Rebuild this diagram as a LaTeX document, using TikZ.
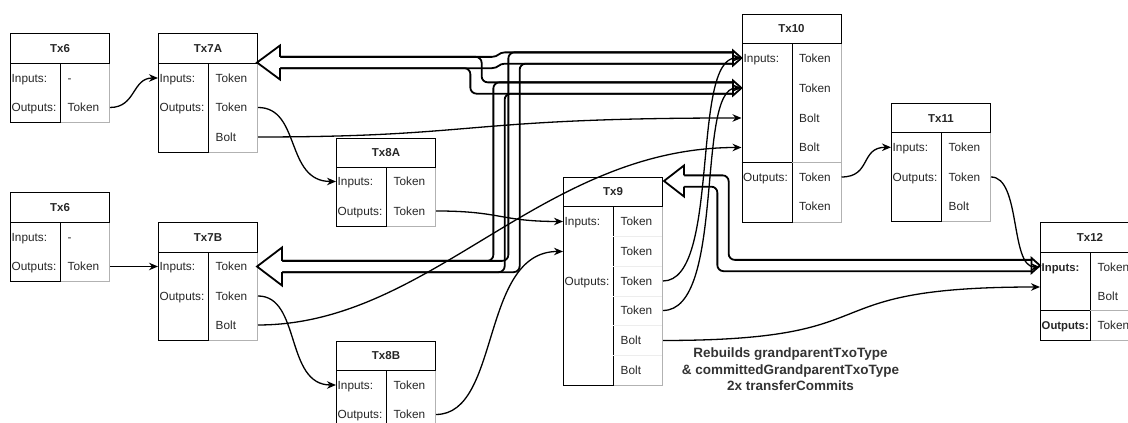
\documentclass[tikz,border=0pt]{standalone}
\usepackage{fontspec}
\setmainfont{Liberation Sans}
\usetikzlibrary{arrows.meta}
\newcommand\TxBox[6]{%
  \node[cellr, minimum height={#5-#4}] (#1r) at ({#2+50},#4) {};
  \node[celll, minimum height={#5-#4}] (#1l) at (#2,#4) {};
  \node[cellt, minimum height={#4-#3}] (#1t) at (#2,#3) {#6};}
\newcommand\Lab[4]{\node[lbl] (#1) at (#2,{#3+4.2}) {#4};}
\newcommand\BigHead[3]{%
  \fill[white] (#1) -- ++(#2,-#3) -- ++(0,2*#3) -- cycle;
  \draw[flexline] ([shift={(#2,-5.65)}]#1) -- ([shift={(#2,-#3)}]#1) -- (#1) -- ([shift={(#2,#3)}]#1) -- ([shift={(#2,5.65)}]#1);}
\newcommand\SmallHead[1]{%
  \draw[flexline, fill=white] ([shift={(-8.5,-7.5)}]#1) -- (#1) -- ([shift={(-8.5,7.5)}]#1) -- cycle;}
\begin{document}
\begin{tikzpicture}[x=1pt,y=-1pt,
  cellt/.style={draw=black, line width=1pt, anchor=north west, inner sep=0pt, minimum width=99pt, font=\bfseries\fontsize{11.5}{13}\selectfont, text=black!85},
  celll/.style={draw=black, line width=1pt, anchor=north west, inner sep=0pt, minimum width=50pt},
  cellr/.style={draw=black!30, line width=1pt, anchor=north west, inner sep=0pt, minimum width=49pt},
  lbl/.style={anchor=base west, inner sep=0pt, font=\fontsize{11.8}{13}\selectfont, text=black!85},
  blbl/.style={lbl, font=\bfseries\fontsize{11.3}{13}\selectfont},
  conn/.style={line width=1.3pt, -{Stealth[length=9pt,width=7.5pt]}},
  flexline/.style={line width=1.8pt, line join=miter},
  shaft/.style={flexline, rounded corners=6pt},
  caption/.style={align=center, font=\bfseries\fontsize{13.5}{16.5}\selectfont, text=black!80}]
\useasboundingbox (0,0) rectangle (1128,423);
\clip (0,0) rectangle (1128,423);

% ---------------- boxes ----------------
\TxBox{S6a}{10}{33}{62.5}{122}{Tx6}
\TxBox{S7A}{158}{33}{62.5}{152}{Tx7A}
\TxBox{S6b}{10}{192}{221.5}{281}{Tx6}
\TxBox{S7B}{158}{222}{251.5}{340}{Tx7B}
\TxBox{S8A}{336}{137.5}{166.5}{226}{Tx8A}
\TxBox{S8B}{336}{341}{370}{429}{Tx8B}
\TxBox{S9}{563}{177}{206}{384.5}{Tx9}
\TxBox{S10}{741.5}{13.5}{42.7}{221.7}{Tx10}
\TxBox{S11}{891}{103}{132.3}{221}{Tx11}
\TxBox{S12}{1040}{222}{252}{340}{Tx12}

% dividers
\draw[black, line width=1pt] (741.5,162.3) -- (791.5,162.3);
\draw[black!30, line width=1pt] (791.5,162.3) -- (840.5,162.3);
\draw[black, line width=1pt] (1040,310.7) -- (1090,310.7);
\draw[black!30, line width=1pt] (1090,310.7) -- (1139,310.7);
\foreach \yy in {236.5,266.5,296,325.5,355.5}
  \draw[black!7, line width=0.8pt] (613,\yy) -- (662,\yy);

% ---------------- labels ----------------
\Lab{S6a-in}{11.5}{78}{Inputs:}
\Lab{S6a-out}{11.5}{107.5}{Outputs:}
\Lab{S6a-1}{67.5}{78}{-}
\Lab{S6a-2}{67.5}{107.5}{Token}

\Lab{S7A-in}{159.5}{78}{Inputs:}
\Lab{S7A-out}{159.5}{107.5}{Outputs:}
\Lab{S7A-1}{215.5}{78}{Token}
\Lab{S7A-2}{215.5}{107.5}{Token}
\Lab{S7A-3}{215.5}{137}{Bolt}

\Lab{S6b-in}{11.5}{237}{Inputs:}
\Lab{S6b-out}{11.5}{266.5}{Outputs:}
\Lab{S6b-1}{67.5}{237}{-}
\Lab{S6b-2}{67.5}{266.5}{Token}

\Lab{S7B-in}{159.5}{266.5}{Inputs:}
\Lab{S7B-out}{159.5}{296}{Outputs:}
\Lab{S7B-1}{215.5}{266.5}{Token}
\Lab{S7B-2}{215.5}{296}{Token}
\Lab{S7B-3}{215.5}{325}{Bolt}

\Lab{S8A-in}{337.5}{181.5}{Inputs:}
\Lab{S8A-out}{337.5}{211}{Outputs:}
\Lab{S8A-1}{393.5}{181.5}{Token}
\Lab{S8A-2}{393.5}{211}{Token}

\Lab{S8B-in}{337.5}{385}{Inputs:}
\Lab{S8B-out}{337.5}{414.5}{Outputs:}
\Lab{S8B-1}{393.5}{385}{Token}
\Lab{S8B-2}{393.5}{414.5}{Token}

\Lab{S9-in}{564.5}{221.5}{Inputs:}
\Lab{S9-out}{564.5}{281}{Outputs:}
\Lab{S9-1}{620.5}{221.5}{Token}
\Lab{S9-2}{620.5}{251.5}{Token}
\Lab{S9-3}{620.5}{281}{Token}
\Lab{S9-4}{620.5}{310.5}{Token}
\Lab{S9-5}{620.5}{340.5}{Bolt}
\Lab{S9-6}{620.5}{370}{Bolt}

\Lab{S10-in}{743.5}{58}{Inputs:}
\Lab{S10-out}{743}{177}{Outputs:}
\Lab{S10-1}{799}{58}{Token}
\Lab{S10-2}{799}{88}{Token}
\Lab{S10-3}{799}{118}{Bolt}
\Lab{S10-4}{799}{147.5}{Bolt}
\Lab{S10-5}{799}{177}{Token}
\Lab{S10-6}{799}{206.5}{Token}

\Lab{S11-in}{892.5}{147.3}{Inputs:}
\Lab{S11-out}{892.5}{177}{Outputs:}
\Lab{S11-1}{948.5}{147.3}{Token}
\Lab{S11-2}{948.5}{177}{Token}
\Lab{S11-3}{948.5}{206.7}{Bolt}

\node[blbl] (S12-in) at (1041.5,271.2) {Inputs:};
\node[blbl] (S12-out) at (1041.5,329.2) {Outputs:};
\Lab{S12-1}{1097.5}{267}{Token}
\Lab{S12-2}{1097.5}{296}{Bolt}
\Lab{S12-3}{1097.5}{325}{Token}

\node[caption] (note) at (790.5,369.5) {Rebuilds grandparentTxoType\\ \& committedGrandparentTxoType\\ 2x transferCommits};

% ---------------- flex arrows ----------------
\coordinate (hA) at (257,62.5);
\coordinate (hB) at (257,266.5);
\coordinate (hC) at (664,181);
\coordinate (e1) at (741.5,58);
\coordinate (e2) at (741.5,88);
\coordinate (e3) at (1040,265.5);

% Tx7A -> Tx10 input 2
\draw[shaft] (280,56.85) -- (481.65,56.85) -- (481.65,82.35) -- (733,82.35);
\draw[shaft] (280,68.15) -- (470.35,68.15) -- (470.35,93.65) -- (733,93.65);
% Tx7A -> Tx10 input 1
\draw[flexline] (280,56.85) -- (492,56.85) .. controls (498.5,56.85) and (498.5,52.35) .. (505,52.35) -- (733,52.35);
\draw[flexline] (280,68.15) -- (492,68.15) .. controls (498.5,68.15) and (498.5,63.65) .. (505,63.65) -- (733,63.65);
% Tx7B -> Tx10 input 1
\draw[shaft] (282,260.85) -- (508.35,260.85) -- (508.35,52.35) -- (733,52.35);
\draw[shaft] (282,272.15) -- (519.65,272.15) -- (519.65,63.65) -- (733,63.65);
% Tx7B -> Tx10 input 2
\draw[shaft] (282,260.85) -- (493.35,260.85) -- (493.35,82.35) -- (733,82.35);
\draw[shaft] (282,272.15) -- (504.65,272.15) -- (504.65,93.65) -- (733,93.65);
% Tx9 <- Tx12
\draw[shaft] (684,175.35) -- (728.65,175.35) -- (728.65,259.85) -- (1032,259.85);
\draw[shaft] (684,186.65) -- (717.35,186.65) -- (717.35,271.15) -- (1032,271.15);

\BigHead{hA}{23}{17}
\BigHead{hB}{25}{19}
\BigHead{hC}{20}{15.5}
\SmallHead{e1}
\SmallHead{e2}
\SmallHead{e3}

% ---------------- thin connectors ----------------
\coordinate (T12in) at (1040,287);
\draw[conn] (S6ar.east |- S6a-2) .. controls +(26,0) and +(-26,0) .. (S7Al.west |- S7A-1);
\draw[conn] (S6br.east |- S6b-2) -- (S7Bl.west |- S7B-1);
\draw[conn] (S7Ar.east |- S7A-2) .. controls +(43,0) and +(-51,0) .. (S8Al.west |- S8A-1);
\draw[conn] (S7Ar.east |- S7A-3) .. controls +(223,0) and +(-281,0) .. (S10l.west |- S10-3);
\draw[conn] (S7Br.east |- S7B-2) .. controls +(43,0) and +(-51,0) .. (S8Bl.west |- S8B-1);
\draw[conn] (S7Br.east |- S7B-3) .. controls +(173,0) and +(-201,0) .. (S10l.west |- S10-4);
\draw[conn] (S8Ar.east |- S8A-2) .. controls +(65,0) and +(-63,0) .. (S9l.west |- S9-1);
\draw[conn] (S8Br.east |- S8B-2) .. controls +(65,0) and +(-83,0) .. (S9l.west |- S9-2);
\draw[conn] (S9r.east |- S9-3) .. controls +(58,0) and +(-51,0) .. (S10l.west |- S10-1);
\draw[conn] (S9r.east |- S9-4) .. controls +(63,0) and +(-46,0) .. (S10l.west |- S10-2);
\draw[conn] (S9r.east |- S9-5) .. controls +(238,0) and +(-240,0) .. (T12in);
\draw[conn] (S10r.east |- S10-5) .. controls +(30,0) and +(-31,0) .. (S11l.west |- S11-1);
\draw[conn] (S11r.east |- S11-2) .. controls +(30,0) and +(-30,0) .. (S12l.west |- S12-1);
\end{tikzpicture}
\end{document}
